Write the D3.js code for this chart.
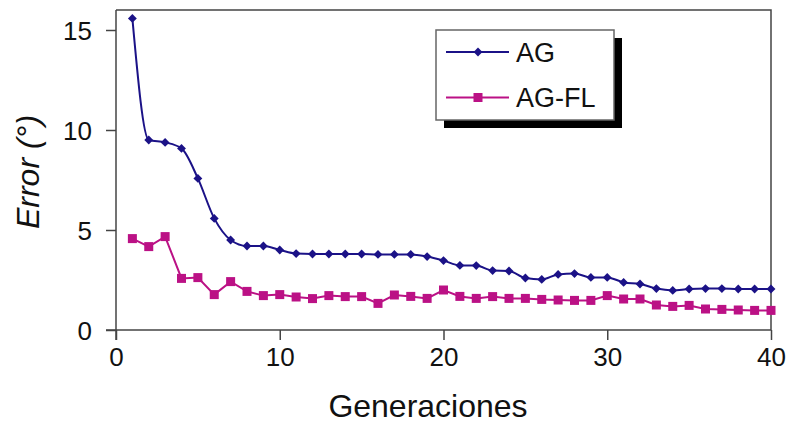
<!DOCTYPE html>
<html>
<head>
<meta charset="utf-8">
<script src="https://cdn.jsdelivr.net/npm/d3@7"></script>
<style>
  body { margin: 0; background: #fff; }
  svg text { font-family: "Liberation Sans", Arial, sans-serif; fill: #111; }
</style>
</head>
<body>
<div id="chart"></div>
<script>
// Data
const generations = d3.range(1, 41);
const agError = [15.58, 9.5, 9.38, 9.08, 7.58, 5.58, 4.5, 4.2, 4.2, 4.0,
  3.82, 3.8, 3.8, 3.8, 3.8, 3.78, 3.78, 3.78, 3.67, 3.47,
  3.23, 3.22, 2.97, 2.95, 2.6, 2.53, 2.78, 2.82, 2.63, 2.63,
  2.38, 2.3, 2.07, 1.98, 2.05, 2.07, 2.07, 2.05, 2.05, 2.05];
const agflError = [4.57, 4.17, 4.67, 2.58, 2.62, 1.77, 2.42, 1.93, 1.72, 1.77,
  1.65, 1.57, 1.72, 1.67, 1.67, 1.33, 1.75, 1.68, 1.58, 2.0,
  1.68, 1.58, 1.67, 1.58, 1.58, 1.53, 1.5, 1.48, 1.48, 1.72,
  1.55, 1.55, 1.25, 1.18, 1.23, 1.05, 1.03, 1.0, 0.98, 0.98];
const seriesNames = ['AG', 'AG-FL'];
const xTicks = [0, 10, 20, 30, 40];
const yTicks = [0, 5, 10, 15];

const width = 789, height = 424;
const margin = { top: 10, right: 18, bottom: 94, left: 116 };
const plotW = width - margin.left - margin.right;
const plotH = height - margin.top - margin.bottom;

const svg = d3.select('#chart')
  .append('svg')
  .attr('width', width)
  .attr('height', height);

const g = svg.append('g')
  .attr('transform', `translate(${margin.left}, ${margin.top})`);

// Scales
const xScale = d3.scaleLinear().domain([0, 40]).range([0, plotW]);
const yScale = d3.scaleLinear().domain([0, 16]).range([plotH, 0]);

// Frame (top and right)
g.append('path')
  .attr('d', `M0,0H${plotW}V${plotH}`)
  .attr('fill', 'none')
  .attr('stroke', '#444')
  .attr('stroke-width', 1.5);

// Axes
const xAxis = d3.axisBottom(xScale).tickValues(xTicks).tickSize(10).tickPadding(8);
const yAxis = d3.axisLeft(yScale).tickValues(yTicks).tickSize(10).tickPadding(14);

const gx = g.append('g')
  .attr('transform', `translate(0, ${plotH})`)
  .call(xAxis);
const gy = g.append('g').call(yAxis);

[gx, gy].forEach(ax => {
  ax.select('.domain').attr('stroke', '#444').attr('stroke-width', 1.5);
  ax.selectAll('.tick line').attr('stroke', '#444').attr('stroke-width', 1.5);
  ax.selectAll('.tick text')
    .style('font-family', '"Liberation Sans", Arial, sans-serif')
    .style('font-size', '26px')
    .attr('fill', '#111');
});
gy.select('.domain').attr('d', `M0,0V${plotH + 10}`);
gx.select('.domain').attr('d', `M-10,0H${plotW}`);
gy.selectAll('.tick text').attr('dy', '0.36em');

// Axis titles
svg.append('text')
  .attr('x', 428)
  .attr('y', 417)
  .attr('text-anchor', 'middle')
  .style('font-size', '32px')
  .text('Generaciones');

svg.append('text')
  .attr('transform', 'translate(39, 172) rotate(-90)')
  .attr('text-anchor', 'middle')
  .style('font-size', '32px')
  .style('font-style', 'italic')
  .text('Error (°)');

// Lines and markers
const colors = ['#1b1287', '#bb1185'];
const series = [agError, agflError];
const curves = [d3.curveMonotoneX, d3.curveLinear];

series.forEach((values, s) => {
  const line = d3.line()
    .x((d, i) => xScale(generations[i]))
    .y(d => yScale(d))
    .curve(curves[s]);
  g.append('path')
    .datum(values)
    .attr('d', line)
    .attr('fill', 'none')
    .attr('stroke', colors[s])
    .attr('stroke-width', 2);
});

g.selectAll('.ag-point')
  .data(agError)
  .enter()
  .append('path')
  .attr('class', 'ag-point')
  .attr('transform', (d, i) => `translate(${xScale(generations[i])}, ${yScale(d)})`)
  .attr('d', d3.symbol(d3.symbolDiamond2, 50))
  .attr('fill', colors[0]);

g.selectAll('.agfl-point')
  .data(agflError)
  .enter()
  .append('rect')
  .attr('class', 'agfl-point')
  .attr('x', (d, i) => xScale(generations[i]) - 4.5)
  .attr('y', d => yScale(d) - 4.5)
  .attr('width', 9)
  .attr('height', 9)
  .attr('fill', colors[1]);

// Legend
const legend = svg.append('g').attr('transform', 'translate(436, 30)');
legend.append('rect')
  .attr('x', 8).attr('y', 8)
  .attr('width', 178).attr('height', 90)
  .attr('fill', '#000');
legend.append('rect')
  .attr('width', 178).attr('height', 90)
  .attr('fill', '#fff')
  .attr('stroke', '#666')
  .attr('stroke-width', 1.5);

seriesNames.forEach((name, i) => {
  const row = legend.append('g').attr('transform', `translate(0, ${22 + i * 45.5})`);
  row.append('line')
    .attr('x1', 10).attr('x2', 73)
    .attr('stroke', colors[i])
    .attr('stroke-width', 2);
  if (i === 0) {
    row.append('path')
      .attr('transform', 'translate(42, 0)')
      .attr('d', d3.symbol(d3.symbolDiamond2, 50))
      .attr('fill', colors[i]);
  } else {
    row.append('rect')
      .attr('x', 37.5).attr('y', -4.5)
      .attr('width', 9).attr('height', 9)
      .attr('fill', colors[i]);
  }
  row.append('text')
    .attr('x', 80)
    .attr('dy', '0.36em')
    .style('font-size', '27px')
    .text(name);
});
</script>
</body>
</html>
